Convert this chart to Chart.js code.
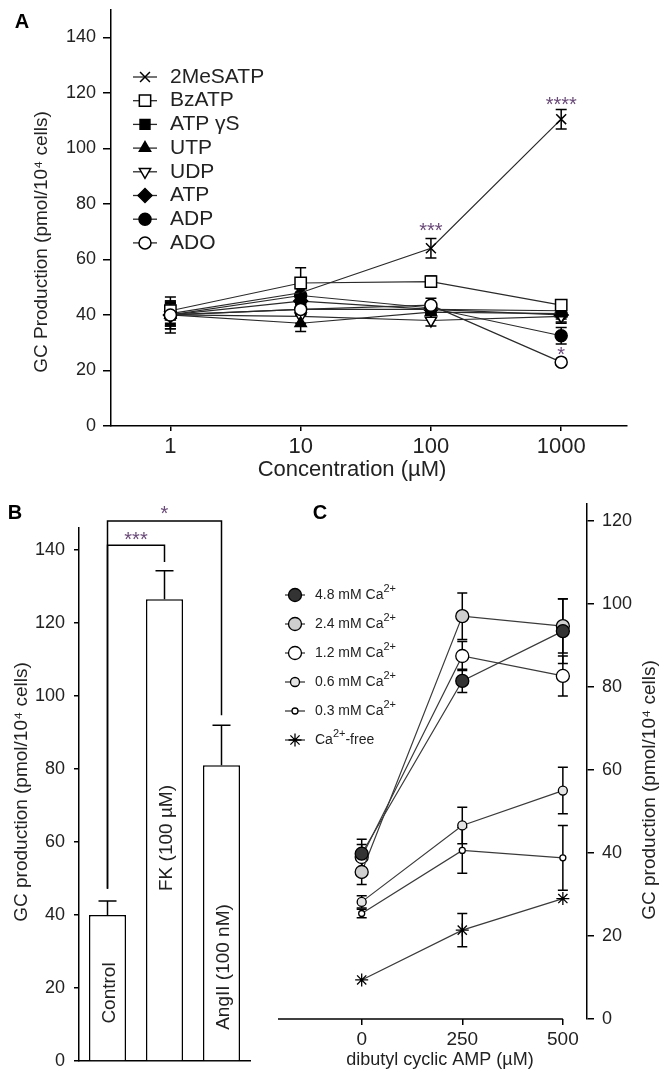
<!DOCTYPE html>
<html>
<head>
<meta charset="utf-8">
<script src="https://cdn.jsdelivr.net/npm/chart.js@4.4.1/dist/chart.umd.min.js"></script>
<style>
  body { margin: 0; background: #fff; }
  #fig { position: relative; width: 670px; height: 1078px; }
  canvas { position: absolute; }
</style>
</head>
<body>
<div id="fig">
  <canvas id="chartA" width="670" height="490" style="left:0;top:0"></canvas>
  <canvas id="chartB" width="300" height="588" style="left:0;top:490px"></canvas>
  <canvas id="chartC" width="400" height="588" style="left:270px;top:490px"></canvas>
</div>
<script>
// ---- panel A: agonist concentration response ----
const concentrations = [1, 10, 100, 1000];
const agonists = ['2MeSATP', 'BzATP', 'ATP γS', 'UTP', 'UDP', 'ATP', 'ADP', 'ADO'];
const meSATP = [40.5, 48, 64, 110.5];
const bzATP = [41.5, 51.5, 52, 43.5];
const atpGammaS = [40, 42, 42, 41.5];
const utp = [40, 37, 41, 40.5];
const udp = [40, 39.5, 38, 39.5];
const atp = [40, 45, 42, 40];
const adp = [40, 47, 42.5, 32.5];
const ado = [40, 42, 43.5, 23];
const meSATPErr = [4, 2, 3.5, 3.5];
const bzATPErr = [3, 5.5, 2, 2];
const atpGammaSErr = [6.5, 2, 2, 2];
const utpErr = [4, 3, 2, 2];
const udpErr = [3, 2.5, 2, 2];
const atpErr = [5, 2, 2, 3];
const adpErr = [4, 2.5, 2, 3];
const adoErr = [5, 2, 2.5, 1];
const yTicksA = [0, 20, 40, 60, 80, 100, 120, 140];
const starsA = [
  { x: 100, y: 69.9, label: '***' },
  { x: 1000, y: 115.5, label: '****' },
  { x: 1000, y: 25.3, label: '*' }
];

// ---- panel B: forskolin / AngII ----
const treatments = ['Control', 'FK (100 µM)', 'AngII (100 nM)'];
const gcProduction = [40, 126.5, 81];
const gcProductionErr = [3.8, 7.8, 11];
const yTicksB = [0, 20, 40, 60, 80, 100, 120, 140];
const bracketsB = [
  { from: 0, to: 1, y: 141.3, legs: [47.2, 136.7], label: '***', labelY: 141.3 },
  { from: 0, to: 2, y: 147.9, legs: [47.2, 94.7], label: '*', labelY: 148.4 }
];

// ---- panel C: dibutyl cAMP at different Ca2+ ----
const dbcAMP = [0, 250, 500];
const calciumLevels = ['4.8 mM Ca²⁺', '2.4 mM Ca²⁺', '1.2 mM Ca²⁺', '0.6 mM Ca²⁺', '0.3 mM Ca²⁺', 'Ca²⁺-free'];
const ca48 = [39.8, 81.4, 93.4];
const ca24 = [35.4, 97, 94.6];
const ca12 = [39, 87.4, 82.6];
const ca06 = [28.2, 46.6, 55];
const ca03 = [25.4, 40.6, 38.8];
const caFree = [9.4, 21.4, 29];
const ca48Err = [3.5, 2.8, 7.8];
const ca24Err = [3, 5.6, 6.5];
const ca12Err = [3, 3.5, 4.8];
const ca06Err = [1.5, 4.4, 5.6];
const ca03Err = [1, 5.5, 7.8];
const caFreeErr = [0, 4, 0];
const xTicksC = [0, 250, 500];
const yTicksC = [0, 20, 40, 60, 80, 100, 120];

const FONT = '"Liberation Sans", Arial, sans-serif';
const INK = '#222';
const STAR = '#6a4a78';
Chart.defaults.font.family = FONT;
Chart.defaults.color = INK;
Chart.defaults.animation = false;

// helpers
function fixedTicks(values) {
  return s => { s.ticks = values.map(v => ({ value: v })); };
}
function fixWidth(w) {
  return s => { s.width = w; s.paddingTop = s.paddingBottom = s.paddingLeft = s.paddingRight = 0; };
}
function fixHeight(h) {
  return s => { s.height = h; s.paddingTop = s.paddingBottom = s.paddingLeft = s.paddingRight = 0; };
}
function axisLook(tickLength) {
  return {
    grid: { drawOnChartArea: false, drawTicks: true, tickLength: tickLength, color: '#000', lineWidth: 1.5 },
    border: { color: '#000', width: 1.5 }
  };
}

function drawMarker(ctx, ds, x, y) {
  ctx.save();
  ctx.fillStyle = ds.pointBackgroundColor;
  ctx.strokeStyle = ds.pointBorderColor;
  ctx.lineWidth = ds.pointBorderWidth;
  const opts = { pointStyle: ds.pointStyle, rotation: ds.pointRotation || 0, radius: ds.pointRadius, borderWidth: ds.pointBorderWidth };
  if (Chart.helpers && Chart.helpers.drawPoint) {
    Chart.helpers.drawPoint(ctx, opts, x, y);
  } else {
    ctx.beginPath(); ctx.arc(x, y, ds.pointRadius, 0, Math.PI * 2); ctx.fill(); ctx.stroke();
  }
  ctx.restore();
}

// text with "²⁺" drawn as a raised smaller "2+"
function drawRich(ctx, text, x, y, size) {
  const parts = text.split('²⁺');
  let cx = x;
  parts.forEach((p, i) => {
    ctx.font = size + 'px ' + FONT;
    ctx.fillText(p, cx, y);
    cx += ctx.measureText(p).width;
    if (i < parts.length - 1) {
      ctx.font = Math.round(size * 0.75) + 'px ' + FONT;
      ctx.fillText('2+', cx, y - size * 0.45);
      cx += ctx.measureText('2+').width;
    }
  });
}

function errorBarPlugin(errors, capHalf, upperOnly) {
  const draw = chart => {
    const ctx = chart.ctx, ys = chart.scales.y;
    ctx.save();
    ctx.strokeStyle = '#000';
    ctx.lineWidth = 1.5;
    chart.data.datasets.forEach((ds, i) => {
      chart.getDatasetMeta(i).data.forEach((pt, j) => {
        const err = errors[i][j];
        if (!err) return;
        const raw = ds.data[j];
        const v = typeof raw === 'object' ? raw.y : raw;
        const top = ys.getPixelForValue(v + err);
        const bot = ys.getPixelForValue(upperOnly ? v : v - err);
        ctx.beginPath();
        ctx.moveTo(pt.x, bot); ctx.lineTo(pt.x, top);
        ctx.moveTo(pt.x - capHalf, top); ctx.lineTo(pt.x + capHalf, top);
        if (!upperOnly) { ctx.moveTo(pt.x - capHalf, bot); ctx.lineTo(pt.x + capHalf, bot); }
        ctx.stroke();
      });
    });
    ctx.restore();
  };
  return upperOnly ? { id: 'errorBars', afterDatasetsDraw: draw } : { id: 'errorBars', beforeDatasetsDraw: draw };
}

function textPlugin(items) {
  return {
    id: 'figText',
    afterDraw(chart) {
      const ctx = chart.ctx;
      items(chart).forEach(t => {
        ctx.save();
        ctx.translate(t.x, t.y);
        if (t.rot) ctx.rotate(t.rot);
        ctx.font = t.font;
        ctx.fillStyle = t.color || INK;
        ctx.textAlign = t.align || 'center';
        ctx.textBaseline = 'middle';
        ctx.fillText(t.text, 0, 0);
        ctx.restore();
      });
    }
  };
}

function legendPlugin(x0, y0, dy, halfLine, textX, size, rich) {
  return {
    id: 'sideLegend',
    afterDraw(chart) {
      const ctx = chart.ctx;
      chart.data.datasets.forEach((ds, i) => {
        const y = y0 + i * dy;
        ctx.save();
        ctx.strokeStyle = ds.borderColor;
        ctx.lineWidth = 1.3;
        ctx.beginPath();
        ctx.moveTo(x0 - halfLine, y); ctx.lineTo(x0 + halfLine, y);
        ctx.stroke();
        ctx.restore();
        drawMarker(ctx, ds, x0, y);
        ctx.save();
        ctx.fillStyle = INK;
        ctx.textBaseline = 'middle';
        ctx.textAlign = 'left';
        if (rich) {
          drawRich(ctx, ds.label, textX, y, size);
        } else {
          ctx.font = size + 'px ' + FONT;
          ctx.fillText(ds.label, textX, y);
        }
        ctx.restore();
      });
    }
  };
}

// ================= Panel A =================
const seriesA = [meSATP, bzATP, atpGammaS, utp, udp, atp, adp, ado];
const errorsA = [meSATPErr, bzATPErr, atpGammaSErr, utpErr, udpErr, atpErr, adpErr, adoErr];
const looksA = [
  { style: 'crossRot', r: 7, fill: '#000', order: 1 },
  { style: 'rect', r: 8, fill: '#fff', order: 0 },
  { style: 'rect', r: 7, fill: '#000', order: 1 },
  { style: 'triangle', r: 6.5, fill: '#000', order: 1 },
  { style: 'triangle', r: 6.5, fill: '#fff', rot: 180, order: 1 },
  { style: 'rectRot', r: 7, fill: '#000', order: 1 },
  { style: 'circle', r: 6, fill: '#000', order: 1 },
  { style: 'circle', r: 6, fill: '#fff', order: -1 }
];

new Chart(document.getElementById('chartA'), {
  type: 'line',
  data: {
    datasets: agonists.map((name, i) => ({
      label: name,
      data: concentrations.map((c, j) => ({ x: c, y: seriesA[i][j] })),
      borderColor: '#2a2a2a',
      borderWidth: 1.2,
      pointStyle: looksA[i].style,
      pointRadius: looksA[i].r,
      pointRotation: looksA[i].rot || 0,
      pointBackgroundColor: looksA[i].fill,
      pointBorderColor: '#000',
      pointBorderWidth: 1.5,
      order: looksA[i].order
    }))
  },
  options: {
    responsive: false,
    layout: { padding: { left: 0, right: 43, top: 1, bottom: 0 } },
    plugins: { legend: { display: false }, tooltip: { enabled: false } },
    scales: {
      x: {
        type: 'logarithmic', min: 0.35, max: 3200,
        afterBuildTicks: fixedTicks(concentrations),
        afterFit: fixHeight(64),
        ticks: { callback: v => String(v), font: { size: 22 }, color: INK, padding: 3, autoSkip: false, maxRotation: 0 },
        ...axisLook(5)
      },
      y: {
        min: 0, max: 150,
        afterBuildTicks: fixedTicks(yTicksA),
        afterFit: fixWidth(111),
        ticks: { font: { size: 18 }, color: INK, padding: 7 },
        ...axisLook(8)
      }
    }
  },
  plugins: [
    errorBarPlugin(errorsA, 5.5, false),
    legendPlugin(145, 77, 23.7, 12, 170, 21, false),
    textPlugin(chart => {
      const xs = chart.scales.x, ys = chart.scales.y;
      return [
        { text: 'A', x: 22, y: 22, font: 'bold 20px ' + FONT, color: '#000' },
        { text: 'GC Production (pmol/10⁴ cells)', x: 42, y: 242, rot: -Math.PI / 2, font: '19px ' + FONT },
        { text: 'Concentration (µM)', x: 352, y: 470, font: '22px ' + FONT },
        ...starsA.map(s => ({ text: s.label, x: xs.getPixelForValue(s.x), y: ys.getPixelForValue(s.y), font: '20px ' + FONT, color: STAR }))
      ];
    })
  ]
});

// ================= Panel B =================
const bracketPlugin = {
  id: 'brackets',
  afterDraw(chart) {
    const ctx = chart.ctx, xs = chart.scales.x, ys = chart.scales.y;
    ctx.save();
    ctx.strokeStyle = '#000';
    ctx.lineWidth = 1.5;
    bracketsB.forEach(b => {
      const x1 = xs.getPixelForValue(b.from), x2 = xs.getPixelForValue(b.to);
      const y = ys.getPixelForValue(b.y);
      ctx.beginPath();
      ctx.moveTo(x1, ys.getPixelForValue(b.legs[0]));
      ctx.lineTo(x1, y);
      ctx.lineTo(x2, y);
      ctx.lineTo(x2, ys.getPixelForValue(b.legs[1]));
      ctx.stroke();
      ctx.fillStyle = STAR;
      ctx.font = '20px ' + FONT;
      ctx.textAlign = 'center';
      ctx.textBaseline = 'middle';
      ctx.fillText(b.label, (x1 + x2) / 2, ys.getPixelForValue(b.labelY) - 5);
    });
    ctx.restore();
  }
};

new Chart(document.getElementById('chartB'), {
  type: 'bar',
  data: {
    labels: treatments,
    datasets: [{
      label: 'GC production',
      data: gcProduction,
      backgroundColor: '#fff',
      borderColor: '#000',
      borderWidth: 1.5,
      barPercentage: 0.65,
      categoryPercentage: 1
    }]
  },
  options: {
    responsive: false,
    layout: { padding: { left: 0, right: 50, top: 38, bottom: 0 } },
    plugins: { legend: { display: false }, tooltip: { enabled: false } },
    scales: {
      x: {
        afterFit: fixHeight(17),
        ticks: { display: false },
        grid: { display: false },
        border: { color: '#000', width: 1.5 }
      },
      y: {
        min: 0, max: 146,
        afterBuildTicks: fixedTicks(yTicksB),
        afterFit: fixWidth(79),
        ticks: { font: { size: 18 }, color: INK, padding: 9 },
        ...axisLook(5)
      }
    }
  },
  plugins: [
    errorBarPlugin([gcProductionErr], 9, true),
    bracketPlugin,
    textPlugin(chart => {
      const bars = chart.getDatasetMeta(0).data;
      const labelY = [503, 348, 477];
      return [
        { text: 'B', x: 15, y: 23, font: 'bold 20px ' + FONT, color: '#000' },
        { text: 'GC production (pmol/10⁴ cells)', x: 22, y: 302, rot: -Math.PI / 2, font: '19px ' + FONT },
        ...treatments.map((t, i) => ({ text: t, x: bars[i].x + 2, y: labelY[i], rot: -Math.PI / 2, font: '19px ' + FONT }))
      ];
    })
  ]
});

// ================= Panel C =================
const seriesC = [ca48, ca24, ca12, ca06, ca03, caFree];
const errorsC = [ca48Err, ca24Err, ca12Err, ca06Err, ca03Err, caFreeErr];
const looksC = [
  { style: 'circle', r: 6.5, fill: '#333', order: -1 },
  { style: 'circle', r: 6.5, fill: '#cfcfcf', order: 0 },
  { style: 'circle', r: 6.5, fill: '#fff', order: 1 },
  { style: 'circle', r: 4.5, fill: '#e4e4e4', order: 1 },
  { style: 'circle', r: 3, fill: '#fff', order: 1 },
  { style: 'star', r: 6.5, fill: '#000', order: 1 }
];

const xLineC = {
  id: 'xLine',
  afterDraw(chart) {
    const ctx = chart.ctx, xs = chart.scales.x, area = chart.chartArea;
    ctx.save();
    ctx.strokeStyle = '#000';
    ctx.lineWidth = 1.5;
    ctx.beginPath();
    ctx.moveTo(area.left, area.bottom);
    ctx.lineTo(xs.getPixelForValue(xTicksC[xTicksC.length - 1]), area.bottom);
    ctx.stroke();
    ctx.restore();
  }
};

new Chart(document.getElementById('chartC'), {
  type: 'line',
  data: {
    datasets: calciumLevels.map((name, i) => ({
      label: name,
      data: dbcAMP.map((d, j) => ({ x: d, y: seriesC[i][j] })),
      borderColor: '#3a3a3a',
      borderWidth: 1.2,
      pointStyle: looksC[i].style,
      pointRadius: looksC[i].r,
      pointBackgroundColor: looksC[i].fill,
      pointBorderColor: '#000',
      pointBorderWidth: 1.3,
      order: looksC[i].order
    }))
  },
  options: {
    responsive: false,
    layout: { padding: { left: 8, right: 0, top: 14, bottom: 0 } },
    plugins: { legend: { display: false }, tooltip: { enabled: false } },
    scales: {
      x: {
        type: 'linear', min: -208, max: 560,
        afterBuildTicks: fixedTicks(xTicksC),
        afterFit: fixHeight(59),
        ticks: { font: { size: 19 }, color: INK, padding: 3, maxRotation: 0 },
        grid: { drawOnChartArea: false, drawTicks: true, tickLength: 6, color: '#000', lineWidth: 1.5 },
        border: { display: false }
      },
      y: {
        position: 'right',
        min: 0, max: 124,
        afterBuildTicks: fixedTicks(yTicksC),
        afterFit: fixWidth(83),
        ticks: { font: { size: 18 }, color: INK, padding: 8 },
        ...axisLook(7)
      }
    }
  },
  plugins: [
    errorBarPlugin(errorsC, 5, false),
    xLineC,
    legendPlugin(25, 105, 29, 10, 45, 14, true),
    textPlugin(() => [
      { text: 'C', x: 50, y: 23, font: 'bold 20px ' + FONT, color: '#000' },
      { text: 'GC production (pmol/10⁴ cells)', x: 380, y: 300, rot: -Math.PI / 2, font: '19px ' + FONT },
      { text: 'dibutyl cyclic AMP (µM)', x: 170, y: 570, font: '18px ' + FONT }
    ])
  ]
});
</script>
</body>
</html>
